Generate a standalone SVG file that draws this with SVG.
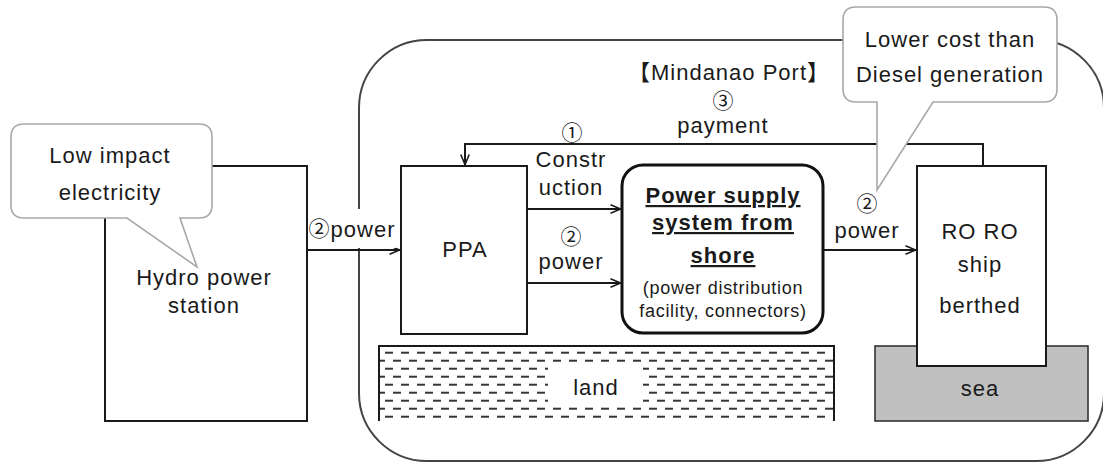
<svg xmlns="http://www.w3.org/2000/svg" width="1103" height="463" viewBox="0 0 1103 463">
  <style>
    .box { fill: #fff; stroke: #1a1a1a; stroke-width: 2; }
    .t { font-family: "Liberation Sans", "Noto Sans CJK JP", sans-serif; font-size: 22px; fill: #1a1a1a; letter-spacing: 1px; text-anchor: middle; }
    .b { font-weight: bold; text-decoration: underline; }
    .s { font-size: 18px; letter-spacing: 0.7px; }
    .c { font-family: "Noto Sans CJK JP", "DejaVu Sans", sans-serif; font-size: 21px; fill: #1a1a1a; text-anchor: middle; }
    .con { fill: none; stroke: #1a1a1a; stroke-width: 2; }
    .call { fill: #fff; stroke: #a8a8a8; stroke-width: 1.6; }
  </style>
  <defs>
    <marker id="arr" viewBox="0 0 12 10" refX="11.5" refY="5" markerWidth="12" markerHeight="10" markerUnits="userSpaceOnUse" orient="auto">
      <path d="M1,0.8 L11.2,5 L1,9.2" fill="none" stroke="#1a1a1a" stroke-width="1.6"/>
    </marker>
    <pattern id="hatch" patternUnits="userSpaceOnUse" x="385" y="348.7" width="16" height="16">
      <path d="M0,4 H8 M8,12 H16" stroke="#333" stroke-width="2"/>
    </pattern>
  </defs>

  <rect width="1103" height="463" fill="#fff"/>

  <g id="port">
    <rect x="359" y="40" width="745" height="421" rx="68" ry="68" fill="none" stroke="#444" stroke-width="2"/>
    <text class="t" x="729" y="80">【Mindanao Port】</text>
  </g>

  <g id="land">
    <rect x="380" y="347" width="454" height="74" fill="url(#hatch)"/>
    <path d="M379,421 V346 H834 V421" fill="none" stroke="#1a1a1a" stroke-width="2"/>
    <rect x="548" y="364" width="95" height="40" fill="#fff"/>
    <text class="t" x="596" y="395">land</text>
  </g>

  <g id="sea">
    <rect x="875" y="346" width="213" height="75" fill="#c0c0c0" stroke="#333" stroke-width="1.6"/>
    <text class="t" x="980" y="396">sea</text>
  </g>

  <g id="hydro">
    <rect class="box" x="105" y="166" width="202" height="255"/>
    <text class="t" x="204" y="285">Hydro power</text>
    <text class="t" x="204" y="313">station</text>
  </g>

  <g id="ppa">
    <rect class="box" x="401" y="166" width="126" height="168"/>
    <text class="t" x="465" y="257">PPA</text>
  </g>

  <g id="supply">
    <rect x="622" y="165" width="201" height="168" rx="21" ry="21" fill="#fff" stroke="#111" stroke-width="3"/>
    <text class="t b" x="723" y="203">Power supply</text>
    <text class="t b" x="723" y="230">system from</text>
    <text class="t b" x="723" y="263">shore</text>
    <text class="t s" x="723" y="294">(power distribution</text>
    <text class="t s" x="723" y="317">facility, connectors)</text>
  </g>

  <g id="roro">
    <rect class="box" x="917" y="166" width="129" height="200"/>
    <text class="t" x="980" y="239">RO RO</text>
    <text class="t" x="980" y="272">ship</text>
    <text class="t" x="980" y="313">berthed</text>
  </g>

  <g id="connectors">
    <path class="con" d="M307,250 H400" marker-end="url(#arr)"/>
    <path class="con" d="M527,209 H621" marker-end="url(#arr)"/>
    <path class="con" d="M527,283 H621" marker-end="url(#arr)"/>
    <path class="con" d="M823,250 H916" marker-end="url(#arr)"/>
    <path class="con" d="M983,166 V144 H465 V165" marker-end="url(#arr)"/>
  </g>

  <g id="labels">
    <rect x="310" y="209" width="86" height="39" fill="#fff"/>
    <text class="c" x="319" y="236">②</text>
    <text class="t" x="363" y="237">power</text>

    <text class="c" x="572" y="140">①</text>
    <text class="t" x="571" y="167">Constr</text>
    <text class="t" x="571" y="195">uction</text>

    <text class="c" x="723" y="108">③</text>
    <text class="t" x="723" y="133">payment</text>

    <text class="c" x="571" y="244">②</text>
    <text class="t" x="571" y="269">power</text>

    <text class="c" x="867" y="211">②</text>
    <text class="t" x="867" y="238">power</text>
  </g>

  <g id="callout-hydro">
    <path class="call" d="M24,124 H199 Q212,124 212,137 V205 Q212,218 199,218 H180 L197,267 L127,218 H24 Q11,218 11,205 V137 Q11,124 24,124 Z"/>
    <text class="t" x="110" y="163">Low impact</text>
    <text class="t" x="110" y="200">electricity</text>
  </g>

  <g id="callout-cost">
    <path class="call" d="M856,7 H1044 Q1057,7 1057,20 V89 Q1057,102 1044,102 H933 L877,190 L877,102 H856 Q843,102 843,89 V20 Q843,7 856,7 Z"/>
    <text class="t" x="950" y="47">Lower cost than</text>
    <text class="t" x="950" y="82">Diesel generation</text>
  </g>
</svg>
